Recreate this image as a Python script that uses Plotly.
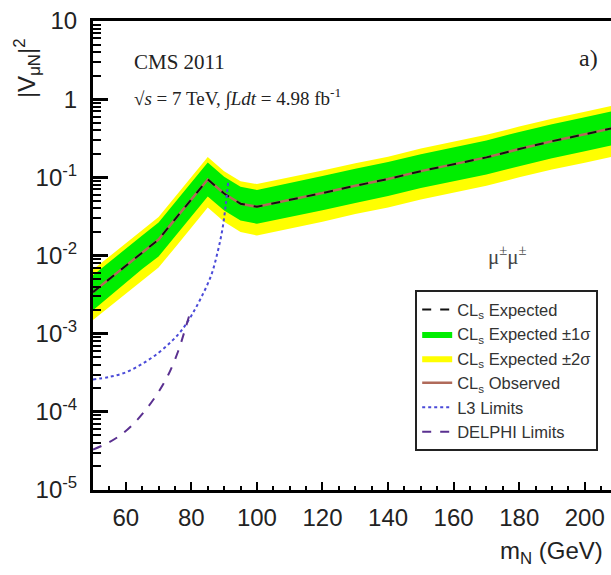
import plotly.graph_objects as go

# Heavy neutrino mass points (GeV) and CLs limits on |V_muN|^2
mass = [50, 55, 60, 65, 70, 75, 80, 85, 90, 95, 100, 110, 120, 130, 140, 150, 160, 170, 180, 190, 200, 210]
exp_limit = [0.0034, 0.005, 0.0074, 0.011, 0.016, 0.029, 0.052, 0.094, 0.062, 0.046, 0.042, 0.051,
             0.063, 0.078, 0.095, 0.12, 0.148, 0.18, 0.23, 0.29, 0.355, 0.44]
obs_limit = [0.0034, 0.005, 0.0074, 0.011, 0.016, 0.029, 0.052, 0.094, 0.062, 0.046, 0.042, 0.051,
             0.063, 0.078, 0.095, 0.12, 0.148, 0.18, 0.23, 0.29, 0.355, 0.44]
exp_p1 = [0.0056, 0.0082, 0.012, 0.018, 0.0265, 0.048, 0.086, 0.155, 0.102, 0.076, 0.069, 0.084,
          0.104, 0.129, 0.157, 0.198, 0.244, 0.297, 0.38, 0.478, 0.585, 0.725]
exp_m1 = [0.0020, 0.0030, 0.0045, 0.0067, 0.0097, 0.0176, 0.0315, 0.057, 0.0376, 0.028, 0.0255, 0.031,
          0.038, 0.047, 0.0575, 0.073, 0.09, 0.109, 0.139, 0.176, 0.215, 0.267]
exp_p2 = [0.0066, 0.0097, 0.0144, 0.0214, 0.031, 0.056, 0.101, 0.182, 0.12, 0.089, 0.082, 0.099,
          0.122, 0.151, 0.184, 0.233, 0.287, 0.35, 0.446, 0.562, 0.69, 0.855]
exp_m2 = [0.0015, 0.0022, 0.0032, 0.0048, 0.007, 0.0126, 0.0226, 0.041, 0.027, 0.020, 0.018, 0.022,
          0.027, 0.034, 0.041, 0.052, 0.064, 0.078, 0.10, 0.126, 0.154, 0.19]

# LEP limits
l3_mass = [50, 55, 60, 65, 70, 74, 77, 80, 83, 86, 88, 89.5, 90.5, 91.2]
l3_limit = [2.6e-4, 2.8e-4, 3.2e-4, 4.1e-4, 5.7e-4, 8.0e-4, 1.1e-3, 1.7e-3, 2.9e-3, 5.5e-3,
            0.011, 0.022, 0.045, 0.085]
delphi_mass = [50, 54, 58, 62, 66, 70, 73, 76, 78, 80]
delphi_limit = [3.3e-5, 3.9e-5, 4.9e-5, 6.8e-5, 1.05e-4, 1.8e-4, 3.0e-4, 6.0e-4, 1.1e-3, 2.1e-3]

# Axis ticks
y_tickvals = [1e-5, 1e-4, 1e-3, 1e-2, 1e-1, 1, 10]
y_ticktext = ["10<sup>-5</sup>", "10<sup>-4</sup>", "10<sup>-3</sup>", "10<sup>-2</sup>",
              "10<sup>-1</sup>", "1", "10"]
x_tickvals = [60, 80, 100, 120, 140, 160, 180, 200]

TICK_FONT = dict(family="Liberation Sans, Arial, sans-serif", size=24, color="#222")
SERIF = "Liberation Serif, Times New Roman, serif"
SANS = "Liberation Sans, Arial, sans-serif"

fig = go.Figure()

# +-2 sigma band
fig.add_trace(go.Scatter(x=mass, y=exp_m2, mode="lines", line=dict(width=0, color="#ffff00"),
                         showlegend=False, hoverinfo="skip"))
fig.add_trace(go.Scatter(x=mass, y=exp_p2, mode="lines", line=dict(width=0, color="#ffff00"),
                         fill="tonexty", fillcolor="#ffff00",
                         name="CL<sub>s</sub> Expected ±2σ", legendrank=3))
# +-1 sigma band
fig.add_trace(go.Scatter(x=mass, y=exp_m1, mode="lines", line=dict(width=0, color="#00ee00"),
                         showlegend=False, hoverinfo="skip"))
fig.add_trace(go.Scatter(x=mass, y=exp_p1, mode="lines", line=dict(width=0, color="#00ee00"),
                         fill="tonexty", fillcolor="#00ee00",
                         name="CL<sub>s</sub> Expected ±1σ", legendrank=2))
# Observed and expected limits
fig.add_trace(go.Scatter(x=mass, y=obs_limit, mode="lines",
                         line=dict(color="#b06a5a", width=2.5),
                         name="CL<sub>s</sub> Observed", legendrank=4))
fig.add_trace(go.Scatter(x=mass, y=exp_limit, mode="lines",
                         line=dict(color="#111111", width=2, dash="dash"),
                         name="CL<sub>s</sub> Expected", legendrank=1))
# LEP limits
fig.add_trace(go.Scatter(x=l3_mass, y=l3_limit, mode="lines",
                         line=dict(color="#4a4ad8", width=2, dash="dot", shape="spline"),
                         name="L3 Limits", legendrank=5))
fig.add_trace(go.Scatter(x=delphi_mass, y=delphi_limit, mode="lines",
                         line=dict(color="#5a3090", width=2, dash="dash", shape="spline"),
                         name="DELPHI Limits", legendrank=6))

fig.update_layout(
    width=611, height=575,
    margin=dict(l=93, r=0, t=21, b=85),
    paper_bgcolor="white", plot_bgcolor="white",
    showlegend=True,
    legend=dict(x=0.622, y=0.426, xanchor="left", yanchor="top",
                bgcolor="white", bordercolor="#222", borderwidth=2,
                font=dict(family=SANS, size=16.5, color="#333"),
                traceorder="normal", tracegroupgap=0, itemwidth=30),
    xaxis=dict(type="linear", range=[50, 208], showgrid=False, zeroline=False,
               showline=True, linecolor="black", linewidth=3, mirror=True,
               ticks="inside", ticklen=8, tickwidth=2, tickcolor="black",
               tickvals=x_tickvals, tickfont=TICK_FONT, ticklabelstandoff=4,
               minor=dict(ticks="inside", ticklen=4, tickwidth=1.5, tickcolor="black", dtick=5)),
    yaxis=dict(type="log", range=[-5, 1], showgrid=False, zeroline=False,
               showline=True, linecolor="black", linewidth=3,
               ticks="inside", ticklen=15, tickwidth=3, tickcolor="black",
               tickvals=y_tickvals, ticktext=y_ticktext, tickfont=TICK_FONT, ticklabelstandoff=8,
               minor=dict(ticks="inside", ticklen=8, tickwidth=2, tickcolor="black",
                          dtick="D1")),
)

annotations = [
    dict(text="|V<sub>μN</sub>|<sup>2</sup>", x=-0.127, y=0.90, textangle=-90,
         xanchor="center", yanchor="middle", font=dict(family=SANS, size=24, color="#222")),
    dict(text="m<sub>N</sub> (GeV)", x=0.988, y=-0.134, xanchor="right", yanchor="middle",
         font=dict(family=SANS, size=24, color="#222")),
    dict(text="CMS 2011", x=0.075, y=0.913, xanchor="left", yanchor="middle",
         font=dict(family=SERIF, size=21, color="#222")),
    dict(text="√<i>s</i> = 7 TeV, ∫<i>Ldt</i> = 4.98 fb<sup>-1</sup>", x=0.075, y=0.836,
         xanchor="left", yanchor="middle", font=dict(family=SERIF, size=19, color="#222")),
    dict(text="a)", x=0.956, y=0.921, xanchor="center", yanchor="middle",
         font=dict(family=SERIF, size=24, color="#222")),
    dict(text="μ<sup>±</sup>μ<sup>±</sup>", x=0.801, y=0.499, xanchor="center", yanchor="middle",
         font=dict(family=SERIF, size=21, color="#444")),
]
for a in annotations:
    fig.add_annotation(xref="paper", yref="paper", showarrow=False, **a)

fig.write_html("out.html")
